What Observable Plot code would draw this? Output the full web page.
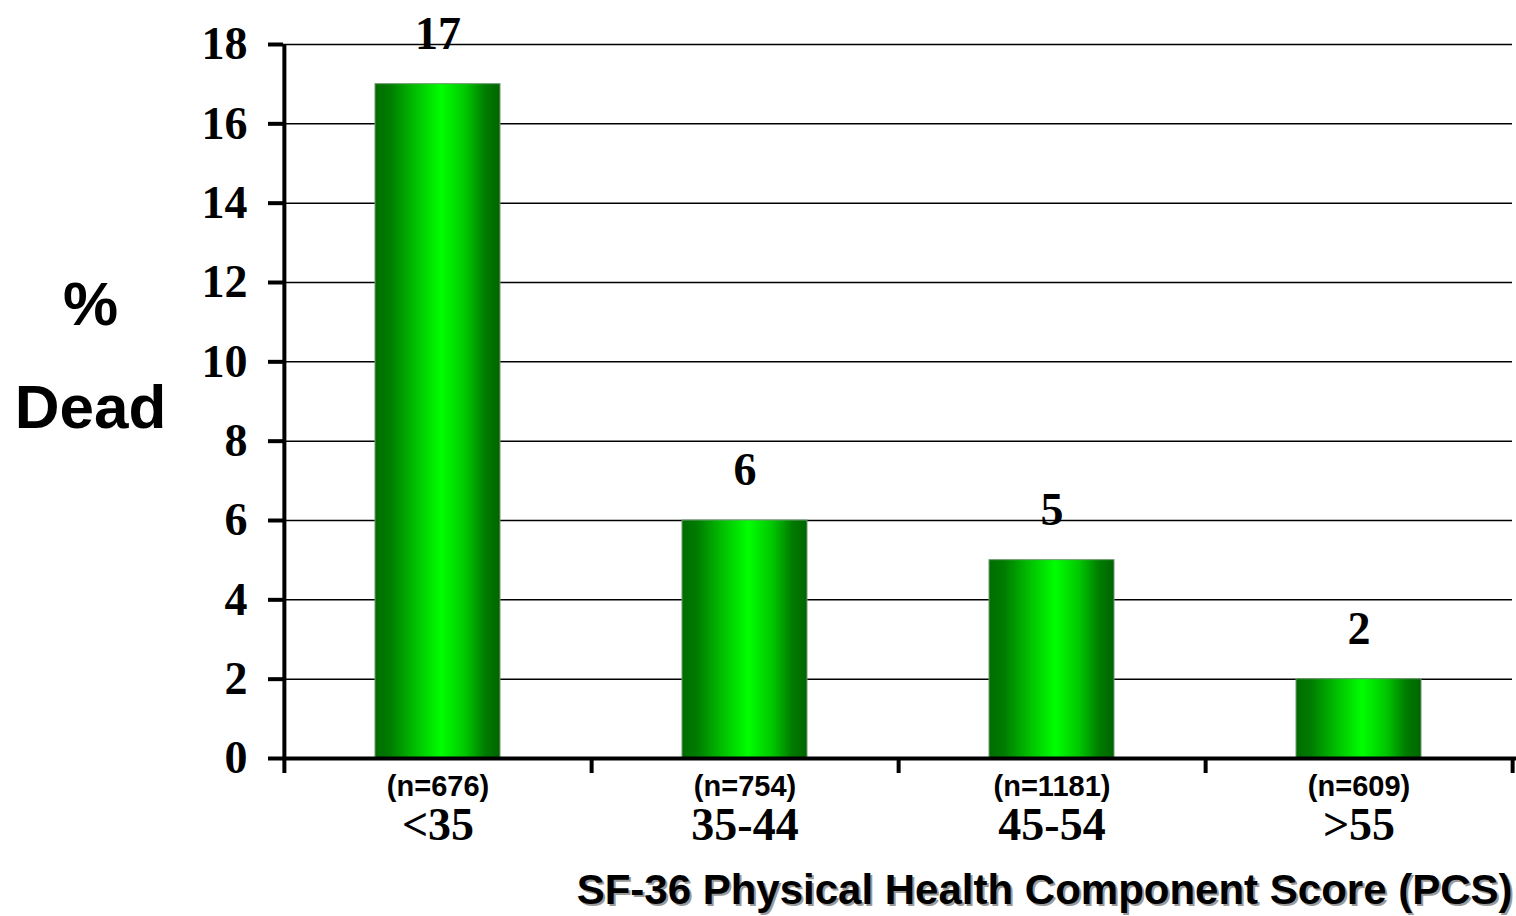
<!DOCTYPE html>
<html>
<head>
<meta charset="utf-8">
<script src="https://cdn.jsdelivr.net/npm/d3@7"></script>
<script src="https://cdn.jsdelivr.net/npm/@observablehq/plot@0.6"></script>
<style>
  html, body { margin: 0; padding: 0; background: #fff; }
  #chart svg { display: block; }
</style>
</head>
<body>
<div id="chart"></div>
<script>
const categories = ["<35", "35-44", "45-54", ">55"];
const percentDead = [17, 6, 5, 2];
const sampleSizes = [676, 754, 1181, 609];
const yTicks = [0, 2, 4, 6, 8, 10, 12, 14, 16, 18];
const xTitle = "SF-36 Physical Health Component Score (PCS)";
const yTitleLines = ["%", "Dead"];

const data = categories.map((c, i) => ({cat: c, val: percentDead[i], n: sampleSizes[i]}));

const W = 1516, H = 916;
const mL = 283, mR = 4, mT = 44, mB = 158;
const step = (W - mL - mR) / categories.length;

const serif = "'Liberation Serif', 'Times New Roman', serif";
const sans = "'Liberation Sans', Arial, sans-serif";

const svg = Plot.plot({
  width: W,
  height: H,
  marginLeft: mL,
  marginRight: mR,
  marginTop: mT,
  marginBottom: mB,
  style: {fontFamily: serif, fontWeight: "bold", color: "black", background: "white"},
  x: {domain: categories, type: "band", paddingInner: 0.593, paddingOuter: 0.2965, axis: null},
  y: {domain: [0, 18], axis: null},
  marks: [
    Plot.ruleY(yTicks.filter(d => d > 0), {y: d => d, stroke: "black", strokeWidth: 1.5}),
    Plot.barY(data, {x: "cat", y: "val", fill: "url(#barGrad)", stroke: "#6f9a6f", strokeWidth: 1}),
    // y axis line
    Plot.ruleX([categories[0]], {x: d => d, dx: -step / 2, y1: 18, y2: 0, insetBottom: -15, stroke: "black", strokeWidth: 4}),
    // x axis line
    Plot.ruleY([0], {y: d => d, stroke: "black", strokeWidth: 4, insetRight: -4}),
    // x ticks at band edges
    Plot.ruleX(categories, {x: d => d, dx: step / 2, y1: 0, y2: 0, insetBottom: -15, stroke: "black", strokeWidth: 4}),
    // y ticks
    Plot.axisY({ticks: yTicks, tickSize: 15, tickPadding: 21, strokeWidth: 4, fontSize: 46, fontWeight: "bold", fontFamily: serif, label: null}),
    // value labels
    Plot.text(data, {x: "cat", y: "val", text: d => String(d.val), dy: -50, fontSize: 46, fontWeight: "bold", fontFamily: serif}),
    // n labels
    Plot.text(data, {x: "cat", y: 0, text: d => `(n=${d.n})`, dy: 28, fontSize: 29, fontWeight: "bold", fontFamily: sans}),
    // category labels
    Plot.text(data, {x: "cat", y: 0, text: "cat", dy: 67, fontSize: 46, fontWeight: "bold", fontFamily: serif}),
    // x title shadow + title
    Plot.text([xTitle], {frameAnchor: "bottom-right", textAnchor: "end", lineAnchor: "middle", dx: 2, dy: 134, fontSize: 42, fontWeight: "bold", fontFamily: sans, fill: "#9a9a9a"}),
    Plot.text([xTitle], {frameAnchor: "bottom-right", textAnchor: "end", lineAnchor: "middle", dy: 132, fontSize: 42, fontWeight: "bold", fontFamily: sans, fill: "black"}),
    // y title
    Plot.text([yTitleLines[0]], {frameAnchor: "top-left", textAnchor: "middle", lineAnchor: "middle", dx: 90 - mL, dy: 261, fontSize: 62, fontWeight: "bold", fontFamily: sans}),
    Plot.text([yTitleLines[1]], {frameAnchor: "top-left", textAnchor: "middle", lineAnchor: "middle", dx: 90 - mL, dy: 364, fontSize: 62, fontWeight: "bold", fontFamily: sans})
  ]
});

const ns = "http://www.w3.org/2000/svg";
const defs = document.createElementNS(ns, "defs");
const grad = document.createElementNS(ns, "linearGradient");
grad.setAttribute("id", "barGrad");
grad.setAttribute("x1", "0"); grad.setAttribute("x2", "1");
grad.setAttribute("y1", "0"); grad.setAttribute("y2", "0");
[["0%", "#006c00"], ["12%", "#007c00"], ["30%", "#00b800"], ["53%", "#00ff00"], ["72%", "#00c800"], ["88%", "#007c00"], ["100%", "#006400"]].forEach(([o, c]) => {
  const s = document.createElementNS(ns, "stop");
  s.setAttribute("offset", o);
  s.setAttribute("stop-color", c);
  grad.appendChild(s);
});
defs.appendChild(grad);
svg.insertBefore(defs, svg.firstChild);

document.getElementById("chart").appendChild(svg);
</script>
</body>
</html>
